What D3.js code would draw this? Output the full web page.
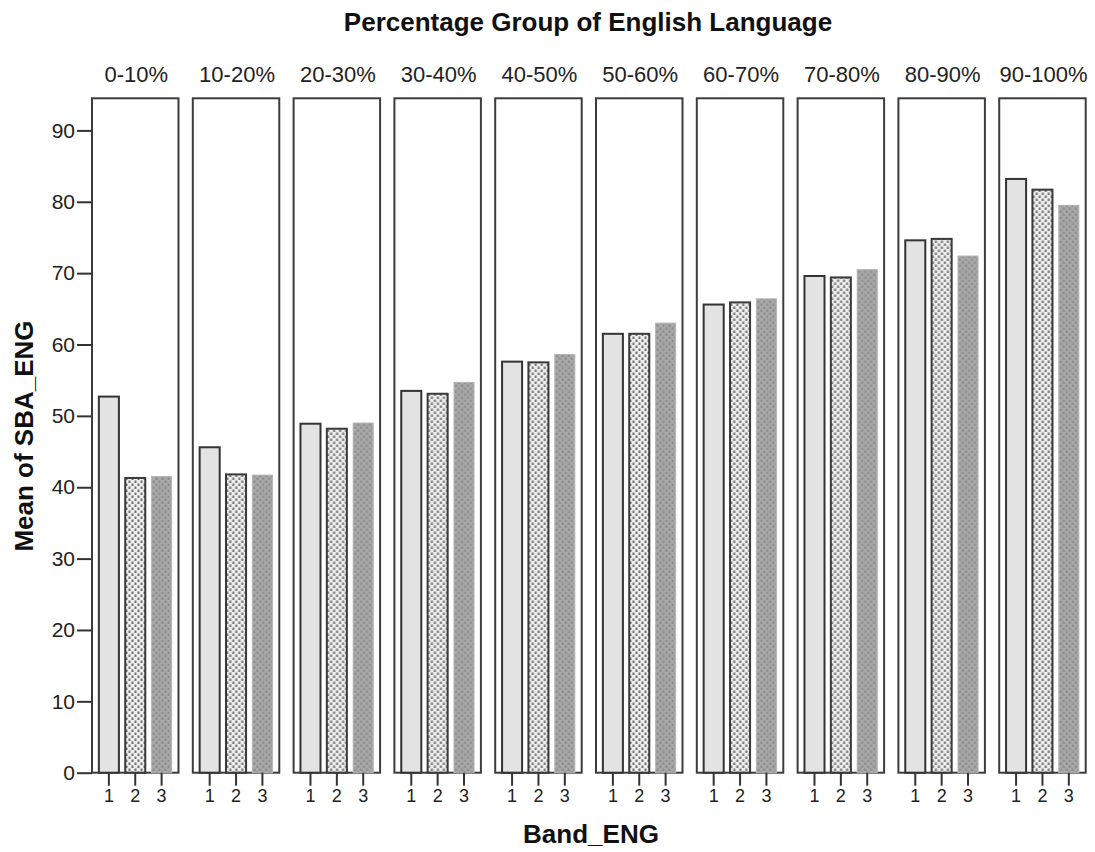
<!DOCTYPE html>
<html>
<head>
<meta charset="utf-8">
<script src="https://cdn.jsdelivr.net/npm/d3@7"></script>
<style>
  html, body { margin: 0; padding: 0; background: #fff; }
  svg { display: block; font-family: "Liberation Sans", Arial, sans-serif; }
</style>
</head>
<body>
<svg id="chart" width="1095" height="852"></svg>
<script>
// Percentage groups (panels) and bands (bars inside each panel)
const groups = ["0-10%", "10-20%", "20-30%", "30-40%", "40-50%", "50-60%", "60-70%", "70-80%", "80-90%", "90-100%"];
const bands = ["1", "2", "3"];
// Mean of SBA_ENG for each band, one entry per percentage group
const band1 = [52.7, 45.6, 48.9, 53.5, 57.6, 61.5, 65.6, 69.6, 74.6, 83.2];
const band2 = [41.3, 41.8, 48.2, 53.1, 57.5, 61.5, 65.9, 69.4, 74.8, 81.7];
const band3 = [41.5, 41.7, 49.0, 54.7, 58.6, 63.0, 66.4, 70.5, 72.4, 79.5];
const yTicks = [0, 10, 20, 30, 40, 50, 60, 70, 80, 90];

const series = [band1, band2, band3];
const svg = d3.select("#chart");

// Fill patterns for bands 2 and 3
const defs = svg.append("defs");
function dotPattern(id, bg, dot) {
  const p = defs.append("pattern").attr("id", id)
    .attr("patternUnits", "userSpaceOnUse").attr("width", 6).attr("height", 6);
  p.append("rect").attr("width", 6).attr("height", 6).attr("fill", bg);
  p.append("rect").attr("x", 0.5).attr("y", 0.5).attr("width", 2).attr("height", 2.5).attr("fill", dot);
  p.append("rect").attr("x", 3.5).attr("y", 3.5).attr("width", 2).attr("height", 2.5).attr("fill", dot);
}
dotPattern("pat2", "#eeeeee", "#707070");
dotPattern("pat3", "#a8a8a8", "#8c8c8c");

const barStyle = [
  { fill: "#e3e3e3", stroke: "#333", sw: 2 },
  { fill: "url(#pat2)", stroke: "#3a3a3a", sw: 2 },
  { fill: "url(#pat3)", stroke: "#b5b5b5", sw: 1 }
];

const panelTop = 98.3, panelBottom = 772.7;
const x0 = d3.scaleBand().domain(groups).range([92, 1085.7]).paddingInner(0.142).paddingOuter(0);
const x1 = d3.scaleBand().domain(bands).range([0, x0.bandwidth()]).paddingInner(0.24).paddingOuter(0.26);
const y = d3.scaleLinear().domain([0, 94.5]).range([panelBottom, panelTop]);

// Title
svg.append("text").attr("x", 588).attr("y", 31).attr("text-anchor", "middle")
  .attr("font-weight", "bold").attr("font-size", 26).attr("fill", "#111")
  .text("Percentage Group of English Language");

// Panels
const panel = svg.selectAll("g.panel").data(groups).join("g")
  .attr("class", "panel")
  .attr("transform", d => `translate(${x0(d)},0)`);

panel.append("text")
  .attr("x", x0.bandwidth() / 2 + 1).attr("y", 82).attr("text-anchor", "middle")
  .attr("font-size", 22).attr("fill", "#222")
  .text(d => d);

panel.append("rect")
  .attr("x", 0).attr("y", panelTop)
  .attr("width", x0.bandwidth()).attr("height", panelBottom - panelTop)
  .attr("fill", "#fff").attr("stroke", "#3c3c3c").attr("stroke-width", 2);

// Bars
panel.each(function (g, gi) {
  const sel = d3.select(this);
  bands.forEach((b, bi) => {
    const v = series[bi][gi];
    const st = barStyle[bi];
    sel.append("rect")
      .attr("x", x1(b)).attr("y", y(v))
      .attr("width", x1.bandwidth()).attr("height", y(0) - y(v))
      .attr("fill", st.fill).attr("stroke", st.stroke).attr("stroke-width", st.sw);
  });
  // Band axis below each panel
  const ax = sel.append("g").attr("transform", `translate(0,${panelBottom})`)
    .call(d3.axisBottom(x1).tickSize(13).tickPadding(4).tickSizeOuter(0));
  ax.select(".domain").remove();
  ax.selectAll(".tick line").attr("stroke", "#333").attr("stroke-width", 2);
  ax.selectAll(".tick text").attr("font-size", 18).attr("fill", "#222")
    .attr("font-family", "\"Liberation Sans\", Arial, sans-serif");
});

// Value axis on the left of the first panel
const yAxis = svg.append("g").attr("transform", `translate(92,0)`)
  .call(d3.axisLeft(y).tickValues(yTicks).tickSize(15).tickPadding(2));
yAxis.select(".domain").remove();
yAxis.selectAll(".tick line").attr("stroke", "#333").attr("stroke-width", 2);
yAxis.selectAll(".tick text").attr("font-size", 21).attr("fill", "#222")
  .attr("font-family", "\"Liberation Sans\", Arial, sans-serif");

// Axis titles
svg.append("text").attr("transform", "translate(33,436) rotate(-90)")
  .attr("text-anchor", "middle").attr("font-weight", "bold").attr("font-size", 26).attr("fill", "#111")
  .text("Mean of SBA_ENG");
svg.append("text").attr("x", 591).attr("y", 843).attr("text-anchor", "middle")
  .attr("font-weight", "bold").attr("font-size", 26).attr("fill", "#111")
  .text("Band_ENG");
</script>
</body>
</html>
